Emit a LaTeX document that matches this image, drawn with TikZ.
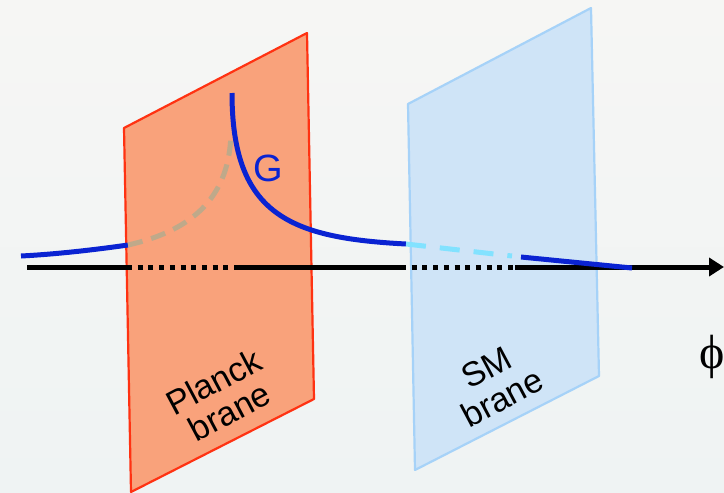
\documentclass[tikz,border=0pt]{standalone}
\usepackage{fontspec}
\setmainfont{Liberation Sans}
\newfontfamily\phifont{Liberation Serif}
\usetikzlibrary{arrows.meta}
\definecolor{bgtop}{HTML}{F6F6F4}
\definecolor{bgbottom}{HTML}{EFF3F3}
\definecolor{planckfill}{HTML}{F9A27B}
\definecolor{planckedge}{HTML}{FF3212}
\definecolor{smfill}{HTML}{CFE4F7}
\definecolor{smedge}{HTML}{A6D2F8}
\definecolor{gblue}{HTML}{0A23D2}
\definecolor{gtan}{HTML}{BFA98A}
\definecolor{gcyan}{HTML}{82E2FF}
\tikzset{
  every picture/.style={line join=round, >=Stealth},
  brane/.style={line width=1.1pt},
  axisline/.style={line width=2.5pt},
  hidden/.style={line width=2.5pt, dash pattern=on 2.5pt off 2.85pt},
  graviton/.style={gblue, line width=2.5pt},
  label/.style={font=\fontsize{17}{17}\selectfont, align=center, rotate=28, inner sep=0pt},
}
\begin{document}
\begin{tikzpicture}[x=0.5pt,y=-0.5pt]
\shade[top color=bgtop,bottom color=bgbottom](0,0) rectangle (724,493);
\useasboundingbox (0,0) rectangle (724,493);
% branes
\filldraw[brane,fill=planckfill,draw=planckedge](124,128)--(307,33)--(314,399)--(131,492)--cycle;
\filldraw[brane,fill=smfill,draw=smedge](408,104)--(591,8)--(599,376)--(415,470)--cycle;
% phi axis
\coordinate (start) at (27,267);
\coordinate (p1) at (127,267);
\coordinate (p2) at (235,267);
\coordinate (s1) at (401,267);
\coordinate (s2) at (515,267);
\coordinate (tip) at (724,267);
\draw[axisline](start)--(p1) (p2)--(s1);
\draw[hidden](p1)--(p2) (s1)--(s2);
\draw[axisline,-{Triangle[length=7.5pt,width=9pt]}](s2)--(tip);
% graviton profile
\draw[graviton](21,256)..controls(60,254) and (100,249)..(128,245);
\draw[gtan,line width=2.5pt,dash pattern=on 7.5pt off 4.5pt](128,245)..controls(195,230) and (230,195)..(231,132);
\draw[graviton](232,93)..controls(232,215) and (290,238)..(406,244);
\draw[gcyan,line width=2.5pt,dash pattern=on 10pt off 7pt](406,244)--(512,256);
\draw[graviton](521,257)--(632,268);
\draw(268,168)node[gblue,font=\fontsize{19}{19}\selectfont](G){G}
(221.5,396.5)node[label](planck){Planck\\brane}
(494.5,382.5)node[label](sm){SM\\brane}
(712,357)node[font=\phifont\fontsize{24}{24}\selectfont,inner sep=0pt](phi){ϕ};
\end{tikzpicture}
\end{document}
